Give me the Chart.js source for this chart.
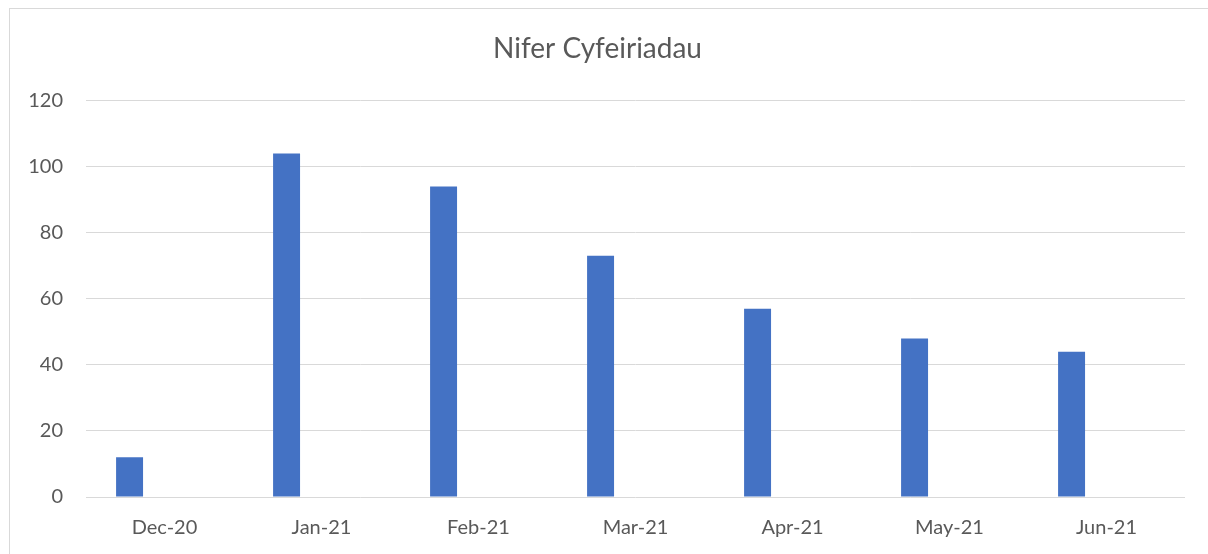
<!DOCTYPE html>
<html>
<head>
<meta charset="utf-8">
<script src="https://cdn.jsdelivr.net/npm/chart.js@4"></script>
<style>
  html, body { margin: 0; padding: 0; background: #fff; }
  #wrap { position: relative; width: 1208px; height: 554px; }
  #frame { position: absolute; left: 9px; top: 8px; width: 1210px; height: 560px; border: 1px solid #d9d9d9; box-sizing: border-box; }
  canvas { position: absolute; left: 0; top: 0; }
</style>
</head>
<body>
<div id="wrap">
  <div id="frame"></div>
  <canvas id="chart" width="1208" height="554"></canvas>
</div>
<script>
const months = ['Dec-20', 'Jan-21', 'Feb-21', 'Mar-21', 'Apr-21', 'May-21', 'Jun-21'];
const cyfeiriadau = [12, 104, 94, 73, 57, 48, 44];
const emptySeries = [null, null, null, null, null, null, null]; // ail gyfres wag, fel yn Excel
const yTicks = [0, 20, 40, 60, 80, 100, 120];

const textColor = '#595959';
const gridColor = '#d9d9d9';

const ctx = document.getElementById('chart').getContext('2d');
const chart = new Chart(ctx, {
    type: 'bar',
    data: {
        labels: months,
        datasets: [
            {
                label: 'Nifer Cyfeiriadau',
                data: cyfeiriadau,
                backgroundColor: '#4472C4',
                borderWidth: 0,
                categoryPercentage: 0.89,
                barPercentage: 0.386
            },
            {
                label: 'Cyfres 2',
                data: emptySeries,
                backgroundColor: '#ED7D31',
                borderWidth: 0,
                categoryPercentage: 0.89,
                barPercentage: 0.386
            }
        ]
    },
    options: {
        responsive: false,
        animation: false,
        layout: {
            padding: { left: 10, right: 23, top: 0, bottom: 0 }
        },
        scales: {
            x: {
                grid: { display: false, drawTicks: false },
                border: { display: false },
                ticks: {
                    color: textColor,
                    font: { family: 'Lato', size: 20 },
                    padding: 19,
                    maxRotation: 0
                },
                afterFit: (scale) => { scale.height = 57; }
            },
            y: {
                min: 0,
                max: 120,
                afterBuildTicks: (scale) => { scale.ticks = yTicks.map(v => ({ value: v })); },
                grid: { color: gridColor, lineWidth: 1, drawTicks: false },
                border: { display: false },
                ticks: {
                    color: textColor,
                    font: { family: 'Lato', size: 20 },
                    padding: 23
                },
                afterFit: (scale) => { scale.width = 76; }
            }
        },
        plugins: {
            legend: { display: false },
            tooltip: { enabled: false },
            title: {
                display: true,
                text: 'Nifer Cyfeiriadau',
                color: textColor,
                font: { family: 'Lato', size: 28, weight: 'normal' },
                padding: { top: 32, bottom: 35 }
            }
        }
    }
});
</script>
</body>
</html>
